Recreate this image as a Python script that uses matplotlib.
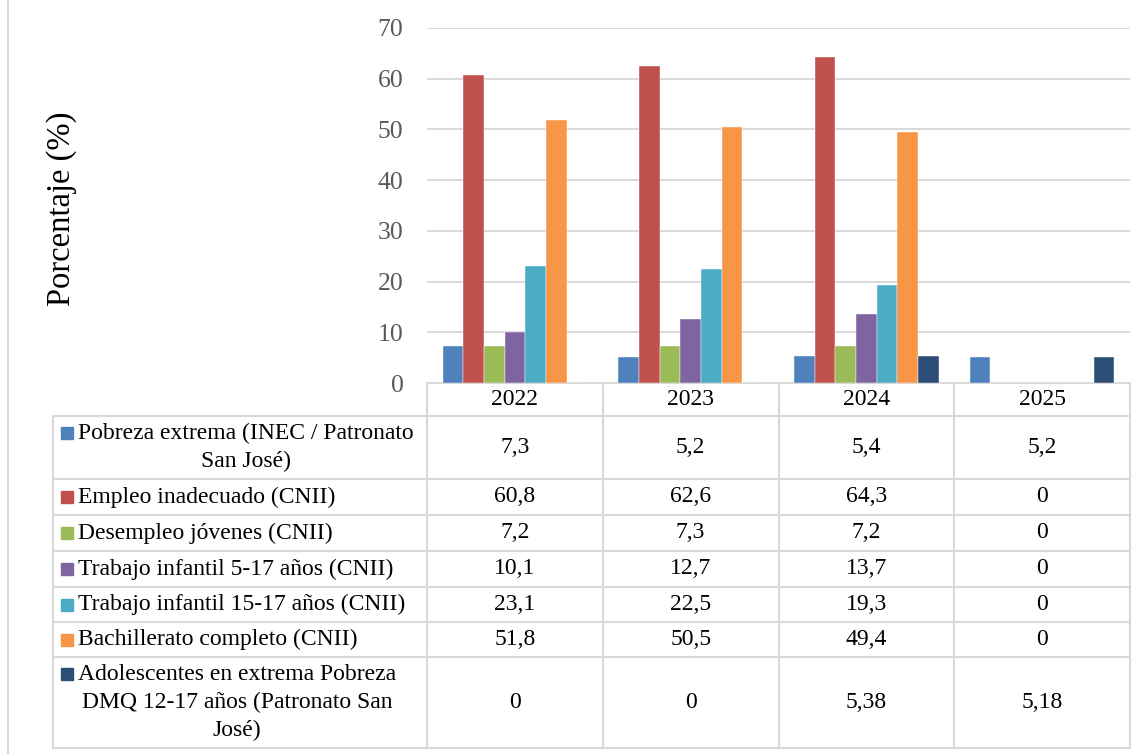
import numpy as np
import matplotlib
matplotlib.use("Agg")
import matplotlib.pyplot as plt
from matplotlib.transforms import blended_transform_factory

plt.rcParams["font.family"] = ["Liberation Serif", "DejaVu Serif"]

years = ["2022", "2023", "2024", "2025"]
series_names = [
    "Pobreza extrema (INEC / Patronato\nSan José)",
    "Empleo inadecuado (CNII)",
    "Desempleo jóvenes (CNII)",
    "Trabajo infantil 5-17 años (CNII)",
    "Trabajo infantil 15-17 años (CNII)",
    "Bachillerato completo (CNII)",
    "Adolescentes en extrema Pobreza\nDMQ 12-17 años (Patronato San\nJosé)",
]
pobreza = [7.3, 5.2, 5.4, 5.2]
empleo = [60.8, 62.6, 64.3, 0]
desempleo = [7.2, 7.3, 7.2, 0]
trabajo_5_17 = [10.1, 12.7, 13.7, 0]
trabajo_15_17 = [23.1, 22.5, 19.3, 0]
bachillerato = [51.8, 50.5, 49.4, 0]
adolescentes = [0, 0, 5.38, 5.18]
series_values = [pobreza, empleo, desempleo, trabajo_5_17,
                 trabajo_15_17, bachillerato, adolescentes]
colors = ["#4F81BD", "#C0504D", "#9BBB59", "#8064A2",
          "#4BACC6", "#F79646", "#2C4D75"]

W, H = 1145, 754
GRID = "#D9D9D9"


def fmt(v):
    return f"{v:g}".replace(".", ",")


fig = plt.figure(figsize=(W / 100, H / 100), dpi=100)

# chart area (pixel layout of the original)
ax = fig.add_axes([427 / W, 1 - 383 / H, (1130 - 427) / W, (383 - 28) / H])
n = len(series_values)
w = 1 / (n + 1.5)
x = np.arange(len(years))
for i, (vals, c) in enumerate(zip(series_values, colors)):
    ax.bar(x + (i - (n - 1) / 2) * w, vals, width=w, color=c,
           edgecolor="white", linewidth=0.3, zorder=3)

ax.set_xlim(-0.5, len(years) - 0.5)
ax.set_ylim(0, 70)
ax.set_yticks(np.arange(0, 71, 10))
ax.set_xticks([])
ax.yaxis.grid(True, color=GRID, linewidth=1.4, zorder=0)
ax.tick_params(axis="y", length=0, pad=17, labelsize=18.5,
               labelcolor="#595959")
for s in ax.spines.values():
    s.set_visible(False)

# data table below the chart
tax = fig.add_axes([0, 0, 1, 1], zorder=-1)
tax.set_xlim(0, W)
tax.set_ylim(H, 0)
tax.axis("off")
mix = blended_transform_factory(ax.transData, tax.transData)

row_edges = [383, 416, 479, 515, 551, 587, 622, 657, 748]
table_left = 53
col_edges = np.arange(len(years) + 1) - 0.5

for k, y in enumerate(row_edges):
    if k > 0:
        tax.plot([table_left, 427], [y, y], color=GRID, lw=1.5)
    tax.plot(col_edges[[0, -1]], [y, y], color=GRID, lw=1.5,
             transform=mix, clip_on=False)
for xe in col_edges:
    tax.plot([xe, xe], [row_edges[0], row_edges[-1]], color=GRID, lw=1.5,
             transform=mix, clip_on=False)
tax.plot([table_left, table_left], [row_edges[1], row_edges[-1]],
         color=GRID, lw=1.5)
# outer frame line on the left
tax.plot([7.5, 7.5], [0, H], color=GRID, lw=1.5)

for j, yr in enumerate(years):
    tax.text(j, (row_edges[0] + row_edges[1]) / 2, yr, transform=mix,
             ha="center", va="center", fontsize=17)

for i, (name, vals, c) in enumerate(zip(series_names, series_values, colors)):
    top, bot = row_edges[i + 1], row_edges[i + 2]
    yc = (top + bot) / 2
    nlines = name.count("\n") + 1
    first_line_y = yc - (nlines - 1) * 14.25
    tax.add_patch(plt.Rectangle((61, first_line_y - 6), 12, 12, color=c))
    tax.text(78, yc, name, ha="left", va="center", fontsize=17,
             multialignment="center", linespacing=1.42)
    for j, v in enumerate(vals):
        tax.text(j, yc, fmt(v), transform=mix, ha="center", va="center",
                 fontsize=17)

fig.text(62 / W, 1 - 209 / H, "Porcentaje (%)", rotation=90,
         ha="center", va="center", fontsize=23.5)

fig.savefig("out.png", dpi=100)
